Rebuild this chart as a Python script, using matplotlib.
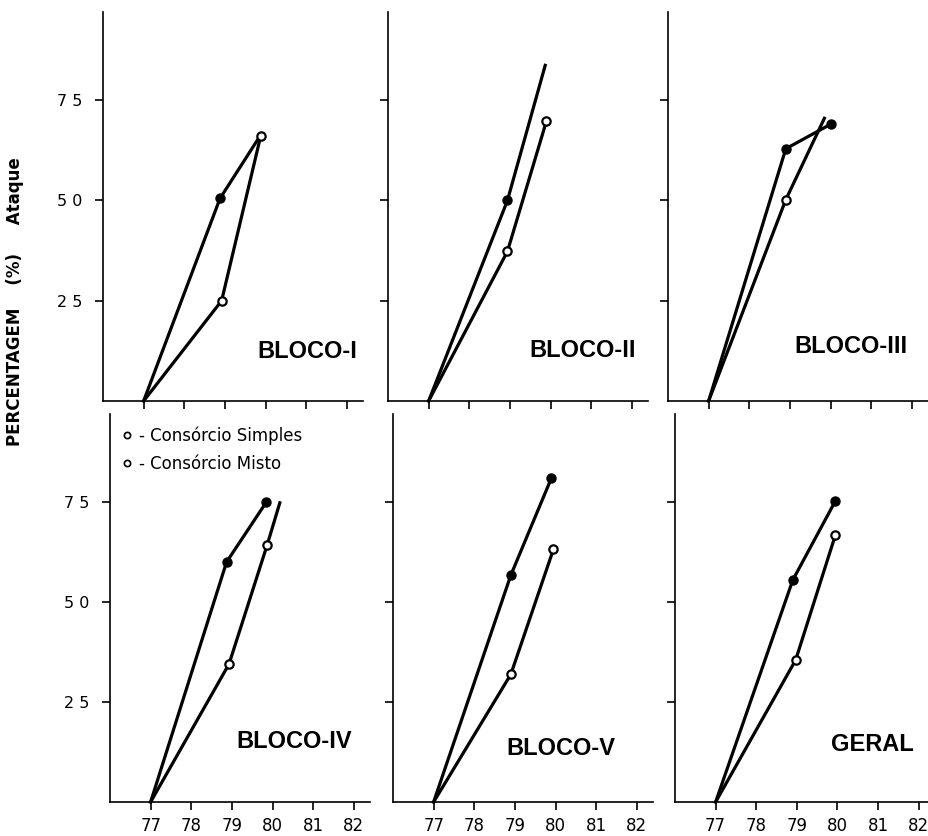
import matplotlib
matplotlib.use("Agg")
import matplotlib.pyplot as plt
from matplotlib.lines import Line2D

# panel titles, in reading order
panels = ["BLOCO-I", "BLOCO-II", "BLOCO-III", "BLOCO-IV", "BLOCO-V", "GERAL"]

# filled-marker series (x = year, y = % attack)
filled_x = [[77, 78.88, 79.86], [77, 78.94, 79.87], [77, 78.9, 80.0],
            [77, 78.87, 79.85], [77, 78.9, 79.9], [77, 78.9, 79.95]]
filled_y = [[0, 50.5, 66], [0, 50, 83.7], [0, 62.9, 69],
            [0, 60, 75], [0, 56.7, 81], [0, 55.5, 75.3]]
filled_marks = [[1], [1], [1, 2], [1, 2], [1, 2], [1, 2]]

# open-marker series
open_x = [[77, 78.92, 79.88], [77, 78.94, 79.9], [77, 78.9, 79.85],
          [77, 78.93, 79.87, 80.18], [77, 78.9, 79.95], [77, 78.97, 79.95]]
open_y = [[0, 25, 66], [0, 37.3, 69.8], [0, 50.2, 70.5],
          [0, 34.5, 64.3, 74.8], [0, 31.9, 63.2], [0, 35.5, 66.8]]
open_marks = [[1, 2], [1, 2], [1], [1, 2], [1, 2], [1, 2]]

years = [77, 78, 79, 80, 81, 82]
y_ticks = [25, 50, 75]
y_ticklabels = ["2 5", "5 0", "7 5"]
legend_labels = ["- Consórcio Simples", "- Consórcio Misto"]

W, H = 929, 836
fig = plt.figure(figsize=(W / 100, H / 100), dpi=100)

# axes boxes in pixels: left spine x, bottom y, width, height
boxes = [(103, 401, 260, 389), (388, 401, 260, 389), (668, 401, 260, 389),
         (110, 802, 260, 388), (393, 802, 260, 388), (675, 802, 260, 388)]
title_pos = [(0.785, 0.126), (0.75, 0.131), (0.704, 0.139),
             (0.71, 0.155), (0.646, 0.139), (0.758, 0.147)]

for i, name in enumerate(panels):
    x0, yb, w, h = boxes[i]
    ax = fig.add_axes([x0 / W, 1 - yb / H, w / W, h / H])
    ax.set_xlim(76.0, 82.4)
    ax.set_ylim(0, 97)
    for s in ["top", "right"]:
        ax.spines[s].set_visible(False)
    for s in ["left", "bottom"]:
        ax.spines[s].set_linewidth(1.2)

    ax.plot(filled_x[i], filled_y[i], color="black", lw=2.3,
            marker="o", markersize=6.5, markevery=filled_marks[i],
            markerfacecolor="black", markeredgecolor="black", clip_on=False)
    ax.plot(open_x[i], open_y[i], color="black", lw=2.3,
            marker="o", markersize=6, markevery=open_marks[i],
            markerfacecolor="white", markeredgecolor="black",
            markeredgewidth=1.6, clip_on=False, zorder=3)

    ax.set_xticks(years)
    ax.set_yticks(y_ticks)
    ax.tick_params(direction="out", length=6, width=1.2)
    if i < 3:
        ax.set_xticklabels([])
    else:
        ax.set_xticklabels([str(y) for y in years], fontsize=12)
        ax.tick_params(axis="x", pad=5)
    if i % 3 == 0:
        ax.set_yticklabels(y_ticklabels, fontsize=11.5)
        ax.tick_params(axis="y", pad=9)
    else:
        ax.set_yticklabels([])

    tx, ty = title_pos[i]
    ax.text(tx, ty, name, transform=ax.transAxes, ha="center", va="center",
            fontsize=17, fontweight="bold", family="Liberation Sans")

    if i == 3:
        handles = [Line2D([], [], ls="none", marker="o", markersize=4.5,
                          markerfacecolor="white", markeredgecolor="black",
                          markeredgewidth=1.2) for _ in legend_labels]
        ax.legend(handles, legend_labels, loc="upper left", frameon=False,
                  bbox_to_anchor=(0.0, 1.0), fontsize=12, handlelength=0.6,
                  handletextpad=0.4, labelspacing=0.6, borderaxespad=0.35)

fig.text(15 / W, 1 - 302 / H, "PERCENTAGEM    (%)     Ataque", rotation=90,
         ha="center", va="center", fontsize=12, fontweight="bold")

fig.savefig("out.png", dpi=100)
